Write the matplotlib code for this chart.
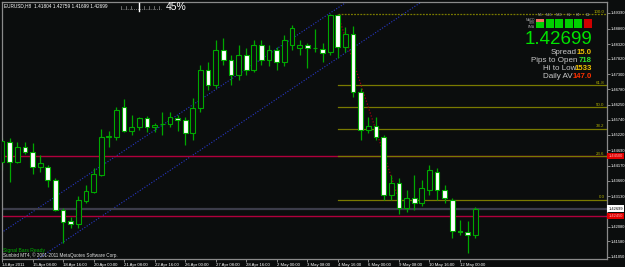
import numpy as np
import matplotlib
matplotlib.use("Agg")
import matplotlib.pyplot as plt
from matplotlib.transforms import blended_transform_factory
from matplotlib.patches import Rectangle

# EURUSD H8 bars (open, high, low, close)
opens = [1.4429, 1.4498, 1.4429, 1.4481, 1.4464, 1.4412, 1.4412, 1.4368, 1.4265, 1.4228,
         1.4217, 1.4296, 1.4327, 1.4385, 1.4515, 1.4515, 1.4617, 1.4535, 1.4549, 1.4580,
         1.4549, 1.4558, 1.4559, 1.4580, 1.4573, 1.4529, 1.4614, 1.4744, 1.4693, 1.4812,
         1.4778, 1.4727, 1.4795, 1.4744, 1.4830, 1.4778, 1.4812, 1.4771, 1.4830, 1.4819,
         1.4830, 1.4819, 1.4816, 1.4806, 1.4932, 1.4823, 1.4867, 1.4669, 1.4539, 1.4552,
         1.4515, 1.4316, 1.4357, 1.4272, 1.4306, 1.4289, 1.4334, 1.4395, 1.4334, 1.4299,
         1.4193, 1.4190, 1.41804]
highs = [1.4511, 1.4511, 1.4498, 1.4498, 1.4494, 1.4453, 1.4419, 1.4374, 1.4272, 1.4241,
         1.4313, 1.4350, 1.4409, 1.4542, 1.4535, 1.4617, 1.4645, 1.4590, 1.4583, 1.4587,
         1.4563, 1.4600, 1.4600, 1.4590, 1.4583, 1.4648, 1.4761, 1.4771, 1.4847, 1.4853,
         1.4795, 1.4830, 1.4819, 1.4847, 1.4847, 1.4830, 1.4823, 1.4864, 1.4898, 1.4847,
         1.4836, 1.4884, 1.4836, 1.4936, 1.4936, 1.4891, 1.4894, 1.4682, 1.4583, 1.4583,
         1.4522, 1.4385, 1.4374, 1.4334, 1.4385, 1.4368, 1.4419, 1.4409, 1.4350, 1.4306,
         1.4231, 1.4228, 1.42759]
lows = [1.4402, 1.4361, 1.4426, 1.4457, 1.4388, 1.4395, 1.4344, 1.4262, 1.4152, 1.4204,
        1.4204, 1.4289, 1.4323, 1.4381, 1.4481, 1.4505, 1.4532, 1.4522, 1.4539, 1.4532,
        1.4532, 1.4522, 1.4549, 1.4535, 1.4487, 1.4505, 1.4600, 1.4676, 1.4682, 1.4761,
        1.4693, 1.4710, 1.4727, 1.4737, 1.4761, 1.4758, 1.4744, 1.4758, 1.4812, 1.4795,
        1.4751, 1.4806, 1.4771, 1.4795, 1.4785, 1.4806, 1.4652, 1.4505, 1.4529, 1.4505,
        1.4299, 1.4299, 1.4251, 1.4258, 1.4265, 1.4279, 1.4316, 1.4299, 1.4289, 1.4169,
        1.4180, 1.4118, 1.41699]
closes = [1.4501, 1.4429, 1.4481, 1.4464, 1.4412, 1.4426, 1.4368, 1.4265, 1.4224, 1.4217,
          1.4299, 1.4330, 1.4388, 1.4515, 1.4517, 1.4607, 1.4535, 1.4549, 1.4580, 1.4549,
          1.4556, 1.4559, 1.4583, 1.4573, 1.4529, 1.4614, 1.4744, 1.4693, 1.4812, 1.4778,
          1.4727, 1.4795, 1.4744, 1.4830, 1.4778, 1.4812, 1.4771, 1.4847, 1.4888, 1.4830,
          1.4819, 1.4818, 1.4802, 1.4932, 1.4823, 1.4867, 1.4669, 1.4539, 1.4552, 1.4515,
          1.4316, 1.4357, 1.4272, 1.4306, 1.4289, 1.4340, 1.4402, 1.4334, 1.4306, 1.4193,
          1.4191, 1.4180, 1.42699]

date_labels = ["14 Apr 2011", "15 Apr 08:00", "18 Apr 16:00", "20 Apr 00:00", "21 Apr 08:00",
               "22 Apr 16:00", "26 Apr 00:00", "27 Apr 08:00", "28 Apr 16:00", "2 May 00:00",
               "3 May 08:00", "4 May 16:00", "6 May 00:00", "9 May 08:00", "10 May 16:00",
               "12 May 00:00"]
price_ticks = [1.41050, 1.41580, 1.42080, 1.43130, 1.43660, 1.44170, 1.44690, 1.45220,
               1.45740, 1.46250, 1.46780, 1.47300, 1.47820, 1.48320, 1.48860, 1.49390]

fib_levels = [0.0, 23.6, 38.2, 50.0, 61.8, 100.0]
fib_high, fib_low = 1.4934, 1.4300
fib_start, fib_end = 44, 52
red_lines = [1.4450, 1.4245]
bid = 1.42699
upper_trend = ([-1, 50], [1.4172, 1.5061])
lower_trend = ([0, 60], [1.4016, 1.5065])

panel_cols = ["M5", "M15", "M30", "H1", "H4", "D1"]
panel_rows = ["MACD", "STR", "EMA"]
panel_state = [["lo", "up", "up", "up", "up", "dn"],
               ["up", "up", "up", "up", "up", "dn"],
               ["up", "up", "up", "up", "up", "dn"]]

bg = "#0b0d0d"
green = "#00a800"
grid_gray = "#8a8a8a"
small = "Liberation Sans"
W, H = 625, 267


def fx(px):
    return px / W


def fy(py):
    return 1 - py / H


fig = plt.figure(figsize=(6.25, 2.67), dpi=100, facecolor=bg)
ax = fig.add_axes([fx(2), 8 / H, 605 / W, 257 / H], facecolor=bg)

n = len(opens)
idx = np.arange(n)
o = np.array(opens)
c = np.array(closes)

# trend channel and horizontal levels
ax.plot(*upper_trend, color="#2838c8", lw=0.8, ls=(0, (1, 1.5)), zorder=1)
ax.plot(*lower_trend, color="#2838c8", lw=0.8, ls=(0, (1, 1.5)), zorder=1)
for lvl in red_lines:
    ax.axhline(lvl, color="#b0003c", lw=1, zorder=1)
ax.axhline(bid, color="#3c3c4a", lw=1.6, zorder=1)

# fibonacci
rng = fib_high - fib_low
for f in fib_levels:
    p = fib_low + rng * f / 100
    ax.plot([fib_start, 90], [p, p], color="#7a7a00", lw=0.9,
            ls=(0, (1.5, 1)) if f == 100.0 else "-", zorder=1)
    ax.text(78.95, p + 0.0002, f"{f:.1f}", color="#b0b000", fontsize=3.2, ha="right", va="bottom",
            family=small)
ax.plot([fib_start, fib_end], [fib_high, fib_low], color="#a00010", lw=0.9, ls=(0, (1, 1.5)), zorder=1)

# candles
ax.vlines(idx, lows, highs, color=green, lw=0.9, zorder=2)
up = c >= o
bottoms = np.minimum(o, c)
heights = np.maximum(np.abs(c - o), 0.00004)
ax.bar(idx[up], heights[up], 0.62, bottom=bottoms[up], facecolor=bg, edgecolor=green, lw=0.8, zorder=3)
ax.bar(idx[~up], heights[~up], 0.62, bottom=bottoms[~up], facecolor="white", edgecolor=green, lw=0.8, zorder=3)

ax.set_xlim(0.08, 79.27)
ax.set_ylim(1.40981, 1.49766)

ax.set_xticks(np.arange(len(date_labels)) * 4)
ax.set_xticklabels(date_labels, ha="left", fontsize=3.1, color="white", family=small)
ax.yaxis.tick_right()
ax.set_yticks(price_ticks)
ax.set_yticklabels([f"{t:.5f}" for t in price_ticks], fontsize=2.9, color="white", family=small)
ax.tick_params(axis="both", colors=grid_gray, length=2, width=0.7, pad=1, labelcolor="white")
for s in ax.spines.values():
    s.set_color(grid_gray)
    s.set_linewidth(0.9)

# price labels on the right
tr = blended_transform_factory(ax.transAxes, ax.transData)
ax.text(1.002, bid, f"{bid:.5f}", transform=tr, fontsize=2.9, color="black", va="center", ha="left",
        family=small, bbox=dict(facecolor="white", edgecolor="none", pad=0.9), clip_on=False)
for lvl in red_lines:
    ax.text(1.002, lvl, f"{lvl:.5f}", transform=tr, fontsize=2.9, color="#ffb0b0", va="center", ha="left",
            family=small, bbox=dict(facecolor="#e00000", edgecolor="none", pad=0.9), clip_on=False)

# header texts
fig.text(fx(4), fy(5.5), "EURUSD,H8  1.41804 1.42759 1.41699 1.42699", fontsize=3.4, color="white",
         va="center", family=small)
fig.add_artist(plt.Line2D([fx(121), fx(161)], [fy(9), fy(9)], color="#909090", lw=0.6, ls=(0, (1, 1.5))))
for gx in [121, 126, 131, 144, 149, 154, 159]:
    fig.add_artist(plt.Line2D([fx(gx), fx(gx)], [fy(6), fy(9)], color="#909090", lw=0.5))
fig.add_artist(plt.Line2D([fx(139), fx(139)], [fy(3), fy(11)], color="white", lw=1))
fig.text(fx(166), fy(7), "45%", fontsize=7.5, color="white", va="center", family="Liberation Sans")

# indicator panel
col_x = [536, 545.5, 555, 564.5, 574, 583.5]
row_y = [19.3, 22.4, 25.5]
state_color = {"lo": "#f07060", "up": "#00d000", "dn": "#d00000"}
for j, name in enumerate(panel_cols):
    fig.text(fx(col_x[j] + 4), fy(15.5), name, fontsize=2.4, color="#a0a0a0", ha="center", va="center",
             family=small)
for i, name in enumerate(panel_rows):
    fig.text(fx(535), fy(row_y[i] + 1.1), name, fontsize=2.3, color="#a0a0a0", ha="right", va="center",
             family=small)
    for j in range(len(panel_cols)):
        fig.add_artist(Rectangle((fx(col_x[j]), fy(row_y[i] + 2.3)), 8 / W, 2.3 / H,
                                 facecolor=state_color[panel_state[i][j]], edgecolor="none"))

fig.text(fx(592), fy(40), f"{bid:.5f}", fontsize=13.5, color="#00e400", ha="right", va="center",
         family="Liberation Sans")
info = [("Spread", "15.0", "#f0c000", 53, 577), ("Pips to Open", "718", "#30e030", 61, 577),
        ("Hi to Low", "1533", "#f0c000", 68.5, 576), ("Daily AV", "147.0", "#ff3000", 76, 572.5)]
for label, val, col, yy, lx in info:
    fig.text(fx(lx), fy(yy), label, fontsize=5.8, color="#c8c8c8", ha="right", va="center",
             family="Liberation Sans")
    fig.text(fx(592), fy(yy), val, fontsize=5.6, color=col, ha="right", va="center",
             family="Liberation Sans", fontweight="bold")

fig.text(fx(3), fy(250.5), "Signal Bars Ready", fontsize=3.6, color="#00b000", va="center", family=small)
fig.text(fx(3), fy(255), "Sunbird MT4, \u00a9 2001-2011 MetaQuotes Software Corp.", fontsize=3.3,
         color="#e0e0e0", va="center", family=small)

fig.savefig("out.png", dpi=100, facecolor=bg)
